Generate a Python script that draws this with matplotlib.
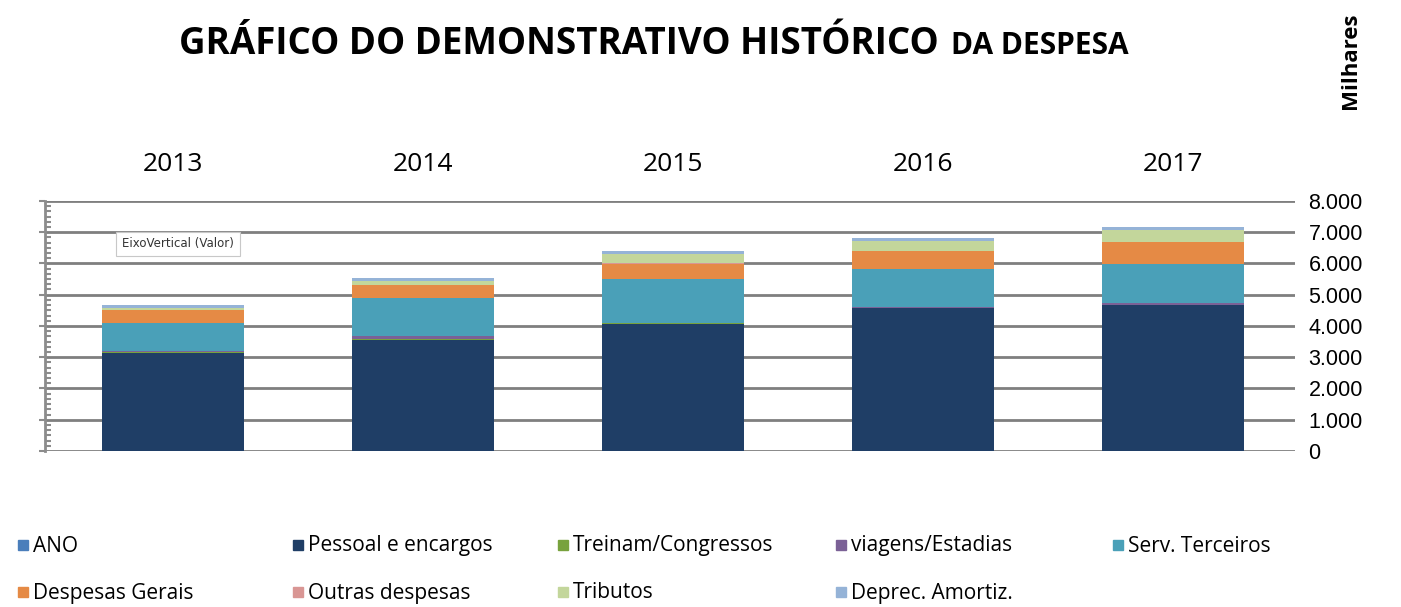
import matplotlib.pyplot as plt
import matplotlib.ticker as mticker
from matplotlib.patches import Rectangle
import numpy as np

anos = ['2013', '2014', '2015', '2016', '2017']

# valores em milhares
pessoal = [3150, 3560, 4070, 4560, 4670]
treinam = [10, 10, 10, 10, 10]
viagens = [30, 120, 20, 40, 50]
serv_terceiros = [920, 1195, 1390, 1210, 1260]
despesas_gerais = [395, 425, 500, 575, 690]
outras = [10, 10, 10, 10, 10]
tributos = [50, 115, 290, 310, 370]
deprec = [95, 105, 105, 105, 120]

series = [
    ('Pessoal e encargos', pessoal, '#1f3e66'),
    ('Treinam/Congressos', treinam, '#78a23d'),
    ('viagens/Estadias', viagens, '#7b6196'),
    ('Serv. Terceiros', serv_terceiros, '#4aa0b8'),
    ('Despesas Gerais', despesas_gerais, '#e58a45'),
    ('Outras despesas', outras, '#d99694'),
    ('Tributos', tributos, '#c3d69b'),
    ('Deprec. Amortiz.', deprec, '#95b3d7'),
]
cor_ano = '#4a7ebb'

fig = plt.figure(figsize=(14.01, 6.07), dpi=100)
ax = fig.add_axes([0.032, 0.257, 0.892, 0.412])

x = np.arange(len(anos))
base = np.zeros(len(anos))
for nome, vals, cor in series:
    ax.bar(x, vals, width=0.568, bottom=base, color=cor, zorder=3)
    base += np.array(vals)

ax.set_xlim(-0.512, 4.488)
ax.set_ylim(0, 8000)
ax.yaxis.set_major_locator(mticker.MultipleLocator(1000))
ax.yaxis.set_minor_locator(mticker.AutoMinorLocator(6))
ax.yaxis.set_major_formatter(
    mticker.FuncFormatter(lambda v, p: f'{int(v):,}'.replace(',', '.')))
ax.grid(axis='y', which='major', color='#7f7f7f', linewidth=2.0, zorder=1)

for s in ['top', 'right', 'bottom']:
    ax.spines[s].set_visible(False)
ax.spines['left'].set_color('#8c8c8c')
ax.spines['left'].set_linewidth(2)

ax.tick_params(axis='y', which='major', left=True, right=False,
               labelleft=False, labelright=True, direction='out',
               length=4, width=1.5, color='#8c8c8c', labelsize=15.5, pad=6,
               labelfontfamily='Liberation Sans')
ax.tick_params(axis='y', which='minor', left=True, direction='in',
               length=4, width=1.5, color='#8c8c8c')

ax.xaxis.tick_top()
ax.set_xticks(x)
ax.set_xticklabels(anos, fontsize=19, family='Open Sans')
ax.tick_params(axis='x', length=0, pad=17)

ax.text(0.062, 0.828, 'EixoVertical (Valor)', transform=ax.transAxes,
        fontsize=8.5, va='center', ha='left', color='#333333',
        bbox=dict(boxstyle='square,pad=0.5', facecolor='white',
                  edgecolor='#c8c8c8', linewidth=0.8), zorder=5)

# titulo em dois tamanhos
t1 = fig.text(0.128, 0.928, 'GRÁFICO DO DEMONSTRATIVO HISTÓRICO',
              fontsize=26.5, fontweight='bold', family='Open Sans',
              va='center', ha='left')
fig.canvas.draw()
bb = t1.get_window_extent()
fig.text((bb.x1 + 12) / fig.bbox.width, 0.925, 'DA DESPESA',
         fontsize=21.5, fontweight='bold', family='Open Sans',
         va='center', ha='left')

fig.text(0.964, 0.9, 'Milhares', rotation=90, fontsize=16,
         fontweight='bold', family='Open Sans', va='center', ha='center')

# legenda
itens = [('ANO', cor_ano)] + [(n, c) for n, v, c in series]
col_x = [18, 293, 558, 836, 1113]
row_y = [545, 592]
W, H = fig.bbox.width, fig.bbox.height
for i, (nome, cor) in enumerate(itens):
    r, c = divmod(i, 5)
    px, py = col_x[c], row_y[r]
    fig.patches.append(Rectangle((px / W, (H - py - 5) / H), 10 / W, 10 / H,
                                 transform=fig.transFigure, color=cor))
    fig.text((px + 15) / W, (H - py - 1) / H, nome, fontsize=15,
             family='Open Sans', va='center', ha='left')

fig.savefig('out.png', dpi=100)
